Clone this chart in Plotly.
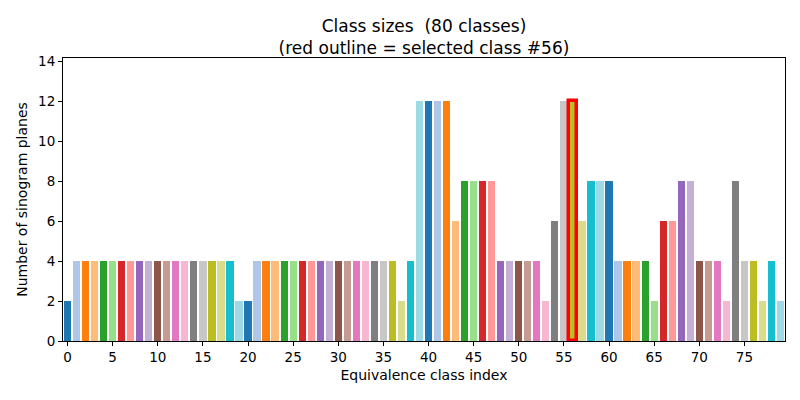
import plotly.graph_objects as go

tab20 = ["#1f77b4", "#aec7e8", "#ff7f0e", "#ffbb78", "#2ca02c", "#98df8a",
         "#d62728", "#ff9896", "#9467bd", "#c5b0d5", "#8c564b", "#c49c94",
         "#e377c2", "#f7b6d2", "#7f7f7f", "#c7c7c7", "#bcbd22", "#dbdb8d",
         "#17becf", "#9edae5"]

class_index = list(range(80))
class_sizes = [2, 4, 4, 4, 4, 4, 4, 4, 4, 4,
               4, 4, 4, 4, 4, 4, 4, 4, 4, 2,
               2, 4, 4, 4, 4, 4, 4, 4, 4, 4,
               4, 4, 4, 4, 4, 4, 4, 2, 4, 12,
               12, 12, 12, 6, 8, 8, 8, 8, 4, 4,
               4, 4, 4, 2, 6, 12, 12, 6, 8, 8,
               8, 4, 4, 4, 4, 2, 6, 6, 8, 8,
               4, 4, 4, 2, 8, 4, 4, 2, 4, 2]
selected = 56
x_ticks = list(range(0, 80, 5))
y_ticks = list(range(0, 15, 2))

colors = [tab20[i % 20] for i in class_index]
line_colors = ["#ff0000" if i == selected else "rgba(0,0,0,0)" for i in class_index]
line_widths = [3.5 if i == selected else 0 for i in class_index]

fig = go.Figure(go.Bar(
    x=class_index, y=class_sizes, width=0.8,
    marker=dict(color=colors, line=dict(color=line_colors, width=line_widths)),
))

font = "DejaVu Sans, sans-serif"
axis_common = dict(showline=True, linecolor="black", linewidth=1, mirror=True,
                   ticks="outside", ticklen=4, tickwidth=1, tickcolor="black",
                   showgrid=False, zeroline=False,
                   tickfont=dict(family=font, size=13.5, color="black"))

fig.update_xaxes(range=[-0.5, 79.5], tickvals=x_ticks,
                 title=dict(text="Equivalence class index", font=dict(family=font, size=14, color="black"), standoff=5),
                 **axis_common)
fig.update_yaxes(range=[0, 14.15], tickvals=y_ticks,
                 title=dict(text="Number of sinogram planes", font=dict(family=font, size=14, color="black"), standoff=7),
                 **axis_common)

fig.update_layout(
    width=800, height=400,
    margin=dict(l=63, r=15, t=58, b=59),
    plot_bgcolor="white", paper_bgcolor="white",
    showlegend=False,
    bargap=0,
    title=dict(text="Class sizes\u00a0\u00a0(80 classes)<br>(red outline = selected class #56)",
               x=0.53, xanchor="center", xref="container",
               y=0.92, yanchor="middle", yref="container",
               font=dict(family=font, size=17, color="black")),
)

fig.write_html("out.html")
